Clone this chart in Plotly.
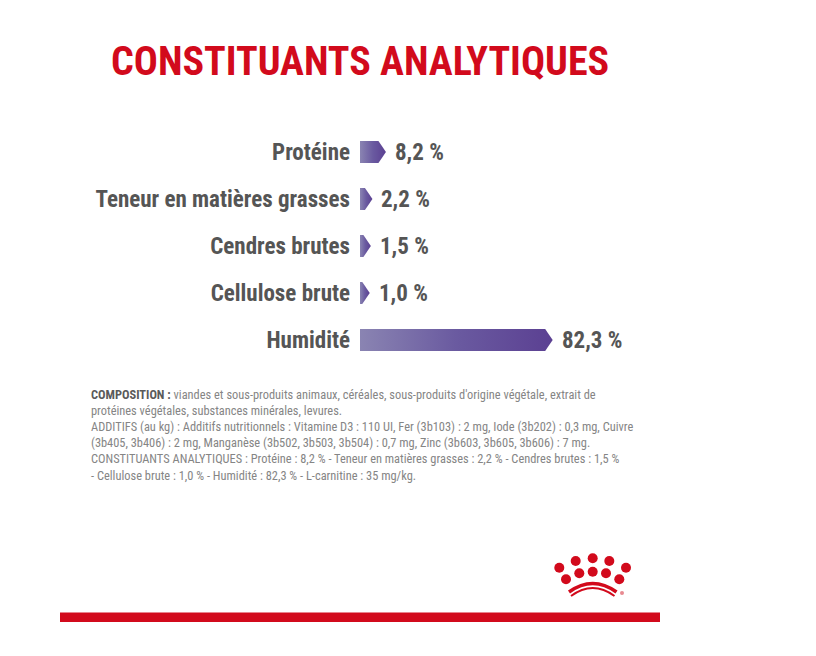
import plotly.graph_objects as go

# ---- data ----
categories = ["Protéine", "Teneur en matières grasses", "Cendres brutes", "Cellulose brute", "Humidité"]
values = [8.2, 2.2, 1.5, 1.0, 82.3]
value_labels = ["8,2 %", "2,2 %", "1,5 %", "1,0 %", "82,3 %"]
title_text = "CONSTITUANTS ANALYTIQUES"
composition_lines = [
    "<b><span style='color:#5a5a5a'>COMPOSITION :</span></b> viandes et sous-produits animaux, céréales, sous-produits d'origine végétale, extrait de",
    "protéines végétales, substances minérales, levures.",
    "ADDITIFS (au kg) : Additifs nutritionnels : Vitamine D3 : 110 UI, Fer (3b103) : 2 mg, Iode (3b202) : 0,3 mg, Cuivre",
    "(3b405, 3b406) : 2 mg, Manganèse (3b502, 3b503, 3b504) : 0,7 mg, Zinc (3b603, 3b605, 3b606) : 7 mg.",
    "CONSTITUANTS ANALYTIQUES : Protéine : 8,2 % - Teneur en matières grasses : 2,2 % - Cendres brutes : 1,5 %",
    "- Cellulose brute : 1,0 % - Humidité : 82,3 % - L-carnitine : 35 mg/kg.",
]

OFF = 8  # page body margin
W, H = 816 - OFF, 656 - OFF
FONT = "Roboto Condensed, Roboto, sans-serif"
RED = "#d20a1c"
GREY = "#555555"

def px(x):
    return (x - OFF) / W

def py(y):
    return 1 - (y - OFF) / H

# axis geometry (page pixels)
x0_pix, x_scale = 360, 2.25  # px per %
x_max = 100
y_top, row_h = 128.5, 47
half_h = 11 / row_h
tip = 7.5 / x_scale

fig = go.Figure()
for i, (v, lab) in enumerate(zip(values, value_labels)):
    xs = [0, v, v + tip, v, 0, 0]
    ys = [i - half_h, i - half_h, i, i + half_h, i + half_h, i - half_h]
    fig.add_trace(go.Scatter(
        x=xs, y=ys, mode="lines", fill="toself", line=dict(width=0),
        fillgradient=dict(type="horizontal",
                          colorscale=[[0, "#8a84b2"], [0.5, "#6a5aa0"], [1, "#5b4092"]]),
        hoverinfo="skip", showlegend=False,
    ))
    fig.add_annotation(x=v + tip, y=i, xref="x", yref="y", text=lab, showarrow=False,
                       xanchor="left", xshift=7,
                       font=dict(family=FONT, size=23, color=GREY, weight="bold"))

fig.update_xaxes(range=[0, x_max], domain=[px(x0_pix), px(x0_pix + x_max * x_scale)],
                 visible=False, fixedrange=True)
fig.update_yaxes(range=[4.5, -0.5], domain=[py(y_top + 5 * row_h), py(y_top)],
                 tickmode="array", tickvals=list(range(len(categories))), ticktext=categories,
                 showgrid=False, zeroline=False, showline=False, ticks="",
                 ticklabelstandoff=9,
                 tickfont=dict(family=FONT, size=23, color=GREY, weight="bold"))

# title
fig.add_annotation(x=px(360), y=py(61), xref="paper", yref="paper", text=title_text,
                   showarrow=False, xanchor="center", yanchor="middle",
                   font=dict(family=FONT, size=40, color=RED, weight="bold"))

# composition text
fig.add_annotation(x=px(89), y=py(385), xref="paper", yref="paper",
                   text="<br>".join(composition_lines), showarrow=False,
                   xanchor="left", yanchor="top", align="left",
                   font=dict(family=FONT, size=12.4, color="#858585"))

# logo (decorative)
shapes = []
dots = [(559.3, 567.7), (575.7, 561), (592.7, 558.3), (609.3, 561), (626, 567.7),
        (566, 579.3), (579.3, 573.3), (592.7, 571.7), (606, 573.3), (619.3, 579.3)]
r = 5
for cx, cy in dots:
    shapes.append(dict(type="circle", xref="paper", yref="paper",
                       x0=px(cx - r), x1=px(cx + r), y0=py(cy + r), y1=py(cy - r),
                       fillcolor=RED, line=dict(width=0)))

def arc(xa, ya, xm, ym, xb, yb):
    return f"M {px(xa)},{py(ya)} Q {px(xm)},{py(ym)} {px(xb)},{py(yb)}"

shapes.append(dict(type="path", xref="paper", yref="paper",
                   path=arc(569, 592, 592.7, 575, 616.5, 592), line=dict(color=RED, width=3.5)))
shapes.append(dict(type="path", xref="paper", yref="paper",
                   path=arc(571, 596, 592.7, 580, 614.5, 596), line=dict(color=RED, width=2)))
shapes.append(dict(type="circle", xref="paper", yref="paper",
                   x0=px(620), x1=px(624), y0=py(595), y1=py(591),
                   fillcolor="#e88a90", line=dict(width=0)))
# bottom red band
shapes.append(dict(type="rect", xref="paper", yref="paper",
                   x0=px(60), x1=px(660), y0=py(622), y1=py(612.5),
                   fillcolor=RED, line=dict(width=0)))

fig.update_layout(width=W, height=H, autosize=False,
                  margin=dict(l=0, r=0, t=0, b=0),
                  paper_bgcolor="white", plot_bgcolor="white",
                  shapes=shapes, showlegend=False)

fig.write_html("out.html")
